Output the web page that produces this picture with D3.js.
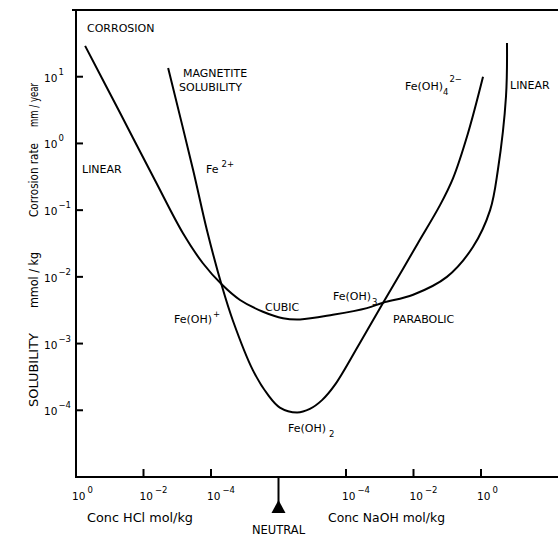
<!DOCTYPE html>
<html lang="en">
<head>
<meta charset="UTF-8">
<title>Magnetite solubility and corrosion rate</title>
<style>
    body { margin: 0; background: #fff; }
    svg text { font-family: 'DejaVu Sans', sans-serif; fill: #000; }
    .axis { stroke: #000; stroke-width: 2px; fill: none; }
    .curve { stroke: #000; stroke-width: 2px; fill: none; }
    .lbl { font-size: 11px; }
    .tick-lbl { font-size: 10.5px; }
    .ttl { font-size: 11.5px; }
</style>
</head>
<body>
<script src="https://d3js.org/d3.v7.min.js"></script>
<script>
    // x positions: 0 = 10^0 HCl ... 6 = neutral ... 12 = 10^0 NaOH
    let xTicks = [0, 2, 4, 8, 10, 12];
    let xTickExp = ['0', '\u22122', '\u22124', '\u22124', '\u22122', '0'];
    let yTicks = [1e1, 1e0, 1e-1, 1e-2, 1e-3, 1e-4];
    let yTickExp = ['1', '0', '\u22121', '\u22122', '\u22123', '\u22124'];
    let neutralPos = 6;

    // corrosion rate curve (linear - cubic - parabolic - linear)
    let corrosionX = [0.27, 1.30, 2.34, 3.17, 3.76, 4.33, 4.86, 5.54, 6.13, 6.64, 7.61, 8.62, 9.10, 9.99, 10.99, 11.76, 12.27, 12.50, 12.74, 12.77];
    let corrosionY = [29, 2.9, 0.28, 0.045, 0.016, 0.0076, 0.0045, 0.0030, 0.0024, 0.0023, 0.0027, 0.0034, 0.0041, 0.0054, 0.010, 0.028, 0.10, 0.40, 5.0, 32];

    // magnetite solubility curve
    let magnetiteX = [2.73, 3.47, 3.88, 4.33, 4.65, 5.24, 5.69, 6.04, 6.55, 6.93, 7.29, 7.67, 8.39, 9.10, 9.60, 10.13, 10.79, 11.17, 11.61, 12.06];
    let magnetiteY = [13.5, 0.40, 0.050, 0.0071, 0.0022, 4.0e-4, 1.7e-4, 1.1e-4, 9.3e-5, 1.05e-4, 1.42e-4, 2.4e-4, 9.8e-4, 4.1e-3, 1.1e-2, 3.2e-2, 0.12, 0.30, 1.4, 10];

    let W = 558, H = 537;
    let m = { l: 76, t: 10, b: 477 };

    let svg = d3.select('body').append('svg')
        .attr('width', W)
        .attr('height', H);

    let x = d3.scaleLinear().domain([0, 14.4]).range([m.l, m.l + 33.75 * 14.4]);
    let y = d3.scaleLog().domain([1e-5, 1e2]).range([m.b, m.t]);

    // frame
    svg.append('path').attr('class', 'axis')
        .attr('d', `M${W},${m.t} L${m.l - 4},${m.t} M${m.l},${m.t} L${m.l},${m.b} L${W},${m.b}`);

    // x ticks
    svg.selectAll('.xtick').data(xTicks).enter().append('line')
        .attr('class', 'axis')
        .attr('stroke-width', 1.5)
        .attr('x1', d => x(d)).attr('x2', d => x(d))
        .attr('y1', m.b).attr('y2', m.b - 8);

    let xl = svg.selectAll('.xtl').data(xTicks).enter().append('text')
        .attr('class', 'tick-lbl')
        .attr('x', d => x(d) - 4)
        .attr('y', 500);
    xl.append('tspan').text('10');
    xl.append('tspan').attr('dx', 2).attr('dy', -7).attr('font-size', 8.5).text((d, i) => xTickExp[i]);

    // y ticks
    svg.selectAll('.ytick').data(yTicks).enter().append('line')
        .attr('class', 'axis')
        .attr('stroke-width', 1.5)
        .attr('x1', m.l).attr('x2', m.l + 7)
        .attr('y1', d => y(d)).attr('y2', d => y(d));

    let yl = svg.selectAll('.ytl').data(yTicks).enter().append('text')
        .attr('class', 'tick-lbl')
        .attr('x', 44)
        .attr('y', d => y(d) + 5);
    yl.append('tspan').text('10');
    yl.append('tspan').attr('dx', 1).attr('dy', -7).attr('font-size', 8.5).text((d, i) => yTickExp[i]);

    // neutral marker
    let nx = x(neutralPos);
    svg.append('line').attr('class', 'axis').attr('stroke-width', 1.5)
        .attr('x1', nx).attr('x2', nx).attr('y1', m.b).attr('y2', 503);
    svg.append('path')
        .attr('d', `M${nx},500 L${nx + 7},513 L${nx - 7},513 Z`)
        .attr('fill', '#000');
    svg.append('text').attr('class', 'ttl')
        .attr('x', nx).attr('y', 534)
        .attr('text-anchor', 'middle')
        .text('NEUTRAL');

    svg.append('text').attr('class', 'ttl')
        .attr('x', 87).attr('y', 522)
        .attr('textLength', 106).attr('lengthAdjust', 'spacingAndGlyphs')
        .text('Conc HCl mol/kg');
    svg.append('text').attr('class', 'ttl')
        .attr('x', 328).attr('y', 522)
        .attr('textLength', 117).attr('lengthAdjust', 'spacingAndGlyphs')
        .text('Conc NaOH mol/kg');

    // y title, in pieces (bottom to top)
    let yTitle = [
        { t: 'SOLUBILITY', y0: 407, len: 74 },
        { t: 'mmol / kg', y0: 308, len: 56 },
        { t: 'Corrosion rate', y0: 217, len: 74 },
        { t: 'mm / year', y0: 127, len: 44 }
    ];
    svg.selectAll('.ytitle').data(yTitle).enter().append('text')
        .attr('class', 'ttl')
        .attr('transform', d => `translate(38,${d.y0}) rotate(-90)`)
        .attr('textLength', d => d.len)
        .attr('lengthAdjust', 'spacingAndGlyphs')
        .text(d => d.t);

    // curves
    let line = d3.line()
        .x(d => x(d[0]))
        .y(d => y(d[1]))
        .curve(d3.curveCatmullRom.alpha(0.5));

    svg.append('path').attr('class', 'curve')
        .attr('d', line(d3.zip(corrosionX, corrosionY)));
    svg.append('path').attr('class', 'curve')
        .attr('d', line(d3.zip(magnetiteX, magnetiteY)));

    // annotations
    function label(px, py, parts) {
        let t = svg.append('text').attr('class', 'lbl').attr('x', px).attr('y', py);
        parts.forEach(p => {
            let s = t.append('tspan').text(p.s);
            if (p.dy) s.attr('dy', p.dy).attr('font-size', 8.5);
            if (p.dx) s.attr('dx', p.dx);
        });
        return t;
    }

    label(87, 32, [{ s: 'CORROSION' }]);
    label(183, 77, [{ s: 'MAGNETITE' }]);
    label(179, 91, [{ s: 'SOLUBILITY' }]);
    label(82, 173, [{ s: 'LINEAR' }]);
    label(206, 173, [{ s: 'Fe' }, { s: '2+', dx: 3, dy: -6 }]);
    label(174, 323, [{ s: 'Fe(OH)' }, { s: '+', dx: 1, dy: -6 }]);
    label(265, 311, [{ s: 'CUBIC' }]);
    label(333, 300, [{ s: 'Fe(OH)' }, { s: '3', dx: 1, dy: 5 }]);
    label(393, 323, [{ s: 'PARABOLIC' }]);
    label(288, 432, [{ s: 'Fe(OH)' }, { s: '2', dx: 3, dy: 5 }]);
    label(405, 90, [{ s: 'Fe(OH)' }, { s: '4', dx: 0, dy: 5 }, { s: '2\u2212', dx: 1, dy: -13 }]);
    label(510, 89, [{ s: 'LINEAR' }]);
</script>
</body>
</html>
